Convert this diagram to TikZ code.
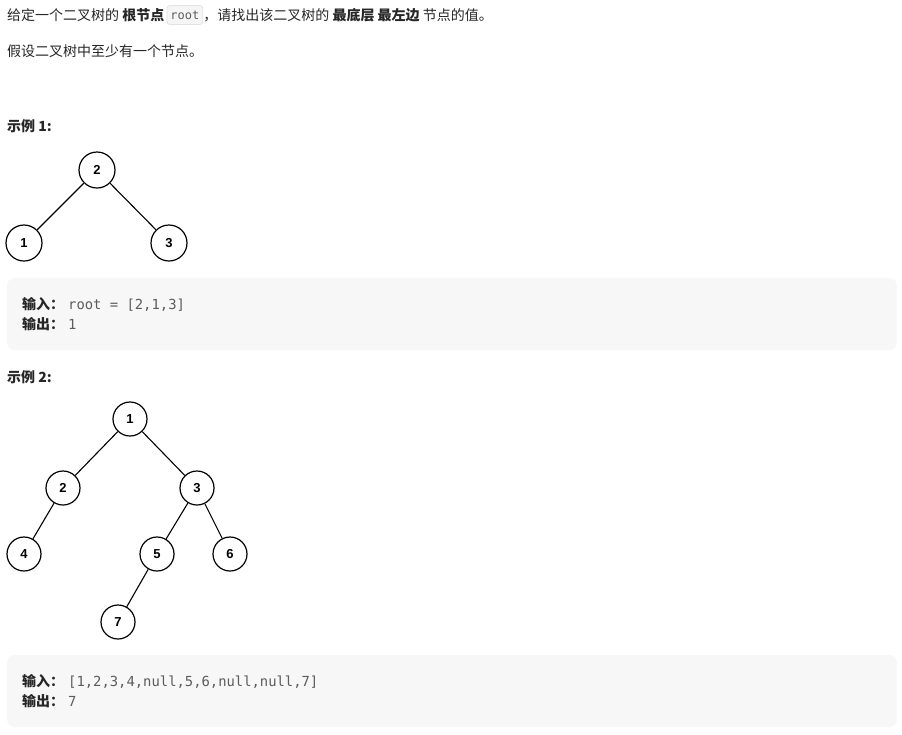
\documentclass[tikz,border=0pt]{standalone}
\usepackage{fontspec}
\setmainfont{Noto Sans CJK SC}
\newfontfamily\codefont{DejaVu Sans Mono}
\newfontfamily\numfont{Liberation Sans}
\definecolor{txt}{HTML}{262626}
\definecolor{codegray}{HTML}{5C5C5C}
\definecolor{boxbg}{HTML}{F7F7F7}
\definecolor{inlinebg}{HTML}{F5F5F5}
\definecolor{inlineborder}{HTML}{E3E3E3}
\tikzset{
  para/.style={anchor=west, inner sep=0pt, text=txt, font=\fontsize{14}{16}\selectfont},
  codeline/.style={anchor=west, inner sep=0pt, text=txt, font=\fontsize{14}{16}\selectfont},
  tnode/.style={circle, draw=black, line width=1.2pt, fill=white, minimum size=#1, inner sep=0pt, font=\numfont\bfseries\fontsize{13}{14}\selectfont},
  tedge/.style={draw=black, line width=1.1pt},
  examplebox/.style={fill=boxbg, draw=none, rounded corners=8pt},
  inlinecode/.style={anchor=west, fill=inlinebg, draw=inlineborder, line width=0.8pt, rounded corners=3pt, inner xsep=3.5pt, inner ysep=0pt, minimum height=19pt, text=codegray, font=\codefont\fontsize{12}{13}\selectfont}
}
\newcommand{\cd}[1]{\hspace{4pt}{\codefont\fontsize{13.85}{16}\selectfont\color{codegray}#1}}
\begin{document}
\begin{tikzpicture}[x=1pt,y=-1pt]
\useasboundingbox (0,0) rectangle (902,734);
\fill[white] (0,0) rectangle (902,734);
% line 1
\node[para] (l1a) at (7,15) {给定一个二叉树的 \textbf{根节点}\ };
\node[inlinecode] (l1code) at ([xshift=2pt]l1a.east) {root};
\node[para] (l1b) at ([xshift=0pt]l1code.east) {，请找出该二叉树的 \textbf{最底层} \textbf{最左边} 节点的值。};
% line 2
\node[para] (l2) at (7,51) {假设二叉树中至少有一个节点。};
% example 1
\node[para] (ex1) at (7,126) {\textbf{示例 1:}};
\node[tnode=36pt] (a2) at (97,170) {2};
\node[tnode=36pt] (a1) at (24,243) {1};
\node[tnode=36pt] (a3) at (169,243) {3};
\draw[tedge] (a2) -- (a1);
\draw[tedge] (a2) -- (a3);
\path[examplebox] (7,278) rectangle (897,350);
\node[codeline] (in1) at (22,304) {\textbf{输入：}\cd{root = [2,1,3]}};
\node[codeline] (out1) at (22,324) {\textbf{输出：}\cd{1}};
% example 2
\node[para] (ex2) at (7,377) {\textbf{示例 2:}};
\node[tnode=34pt] (b1) at (130,419) {1};
\node[tnode=34pt] (b2) at (63,488) {2};
\node[tnode=34pt] (b3) at (197,488) {3};
\node[tnode=34pt] (b4) at (24,554) {4};
\node[tnode=34pt] (b5) at (157,554) {5};
\node[tnode=34pt] (b6) at (230,554) {6};
\node[tnode=34pt] (b7) at (118,622) {7};
\draw[tedge] (b1) -- (b2);
\draw[tedge] (b1) -- (b3);
\draw[tedge] (b2) -- (b4);
\draw[tedge] (b3) -- (b5);
\draw[tedge] (b3) -- (b6);
\draw[tedge] (b5) -- (b7);
\path[examplebox] (7,655) rectangle (897,727);
\node[codeline] (in2) at (22,681) {\textbf{输入：}\cd{[1,2,3,4,null,5,6,null,null,7]}};
\node[codeline] (out2) at (22,701) {\textbf{输出：}\cd{7}};
\end{tikzpicture}
\end{document}
